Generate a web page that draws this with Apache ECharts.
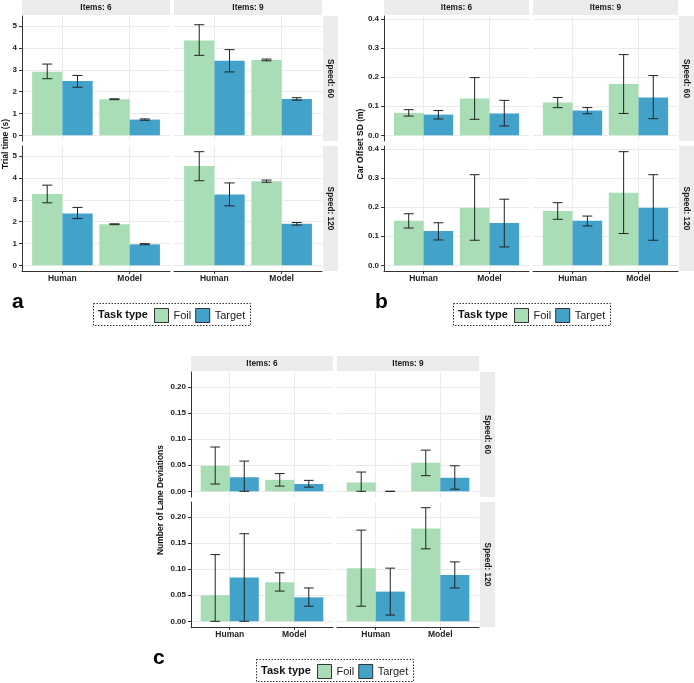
<!DOCTYPE html>
<html><head><meta charset="utf-8">
<script src="https://cdn.jsdelivr.net/npm/echarts@6/dist/echarts.min.js"></script>
<style>html,body{margin:0;padding:0;background:#fff}#c{width:694px;height:683px}</style>
</head><body><div id="c"></div>
<script>
const categories = ['Human', 'Model'];
const taskTypes = ['Foil', 'Target'];
const itemLabels = ['Items: 6', 'Items: 9'];
const speedLabels = ['Speed: 60', 'Speed: 120'];
// facet order: [Speed 60/Items 6, Speed 60/Items 9, Speed 120/Items 6, Speed 120/Items 9]; inner: [Human, Model]
const trialFoil = [[2.91,1.65],[4.34,3.45],[3.26,1.88],[4.54,3.85]];
const trialFoilLow = [[2.59,1.63],[3.66,3.41],[2.86,1.86],[3.87,3.80]];
const trialFoilHigh = [[3.26,1.67],[5.06,3.49],[3.67,1.90],[5.20,3.90]];
const trialTarget = [[2.48,0.72],[3.41,1.66],[2.37,0.96],[3.24,1.90]];
const trialTargetLow = [[2.20,0.69],[2.90,1.61],[2.14,0.94],[2.72,1.84]];
const trialTargetHigh = [[2.74,0.75],[3.92,1.72],[2.65,0.99],[3.77,1.96]];
const offsetFoil = [[0.077,0.126],[0.113,0.176],[0.153,0.198],[0.186,0.249]];
const offsetFoilLow = [[0.066,0.055],[0.095,0.075],[0.128,0.086],[0.158,0.109]];
const offsetFoilHigh = [[0.088,0.198],[0.130,0.277],[0.177,0.311],[0.215,0.390]];
const offsetTarget = [[0.071,0.075],[0.085,0.130],[0.118,0.145],[0.153,0.198]];
const offsetTargetLow = [[0.056,0.032],[0.074,0.057],[0.087,0.063],[0.135,0.086]];
const offsetTargetHigh = [[0.085,0.120],[0.095,0.205],[0.146,0.227],[0.169,0.311]];
const laneFoil = [[0.049,0.022],[0.017,0.055],[0.050,0.075],[0.102,0.178]];
const laneFoilLow = [[0.014,0.010],[0.000,0.030],[0.000,0.058],[0.029,0.139]];
const laneFoilHigh = [[0.085,0.034],[0.037,0.079],[0.128,0.093],[0.175,0.218]];
const laneTarget = [[0.027,0.014],[0.000,0.026],[0.084,0.046],[0.057,0.089]];
const laneTargetLow = [[0.000,0.008],[0.000,0.004],[0.000,0.029],[0.012,0.064]];
const laneTargetHigh = [[0.058,0.021],[0.000,0.049],[0.168,0.064],[0.102,0.114]];
const trialTicks = [0, 1, 2, 3, 4, 5];
const offsetTicks = [0, 0.1, 0.2, 0.3, 0.4];
const laneTicks = [0, 0.05, 0.1, 0.15, 0.2];
const yTitles = ['Trial time (s)', 'Car Offset SD (m)', 'Number of Lane Deviations'];
const panelLetters = ['a', 'b', 'c'];
const legendTitle = 'Task type';

const FONT = '"Liberation Sans", Arial, Helvetica, sans-serif';
const COLORS = ['#a8ddb5', '#43a2ca'];
const GRIDC = '#ebebeb';
const AXC = '#333333';
const STRIPC = '#ececec';

const panels = [
  { ticks: trialTicks, dec: 0, yMin: -0.26, yMax: 5.46,
    data: [[trialFoil, trialFoilLow, trialFoilHigh], [trialTarget, trialTargetLow, trialTargetHigh]],
    cols: [22, 174], colW: 148, rows: [16, 146], rowH: 125, stripX: 323,
    yTitleX: 6, yTitleY: 144, letterX: 12, letterY: 302, boxX: 93, boxY: 303 },
  { ticks: offsetTicks, dec: 1, yMin: -0.0195, yMax: 0.4095,
    data: [[offsetFoil, offsetFoilLow, offsetFoilHigh], [offsetTarget, offsetTargetLow, offsetTargetHigh]],
    cols: [384, 533], colW: 145, rows: [16, 146], rowH: 125, stripX: 679,
    yTitleX: 361, yTitleY: 144, letterX: 375, letterY: 302, boxX: 453, boxY: 303 },
  { ticks: laneTicks, dec: 2, yMin: -0.0109, yMax: 0.2289,
    data: [[laneFoil, laneFoilLow, laneFoilHigh], [laneTarget, laneTargetLow, laneTargetHigh]],
    cols: [191, 337], colW: 142, rows: [372, 502], rowH: 125, stripX: 480,
    yTitleX: 161, yTitleY: 500, letterX: 153, letterY: 658, boxX: 256, boxY: 659 }
];

function makeRender(t) {
  return function (params, api) {
    const x = api.value(0), v = api.value(1), lo = api.value(2), hi = api.value(3);
    const x0 = x - 0.45 + t * 0.45, x1 = x0 + 0.45, xc = x0 + 0.225, cw = 0.075;
    const p0 = api.coord([x0, v]), p1 = api.coord([x1, 0]);
    const top = api.coord([xc, hi]), bot = api.coord([xc, lo]);
    const cl = api.coord([xc - cw, hi])[0], cr = api.coord([xc + cw, hi])[0];
    const es = { stroke: '#222', lineWidth: 1 };
    return { type: 'group', children: [
      { type: 'rect', shape: { x: p0[0], y: Math.min(p0[1], p1[1]), width: p1[0] - p0[0], height: Math.abs(p1[1] - p0[1]) }, style: { fill: COLORS[t] } },
      { type: 'line', shape: { x1: top[0], y1: top[1], x2: bot[0], y2: bot[1] }, style: es },
      { type: 'line', shape: { x1: cl, y1: top[1], x2: cr, y2: top[1] }, style: es },
      { type: 'line', shape: { x1: cl, y1: bot[1], x2: cr, y2: bot[1] }, style: es }
    ]};
  };
}

const grid = [], xAxis = [], yAxis = [], series = [], legend = [], graphic = [];
panels.forEach((P, pi) => {
  for (let r = 0; r < 2; r++) {
    for (let c = 0; c < 2; c++) {
      const g = grid.length;
      const f = r * 2 + c;
      grid.push({ left: P.cols[c], top: P.rows[r], width: P.colW, height: P.rowH });
      xAxis.push({ gridIndex: g, type: 'value', min: 0.4, max: 2.6,
        axisLine: { show: r === 1, onZero: false, lineStyle: { color: AXC, width: 1 } },
        axisTick: { show: r === 1, customValues: [1, 2], length: 3, lineStyle: { color: AXC } },
        axisLabel: { show: r === 1, customValues: [1, 2], margin: 3, fontSize: 8.5, fontWeight: 'bold', color: '#222', fontFamily: FONT,
          formatter: v => categories[Math.round(v) - 1] },
        splitLine: { show: true, lineStyle: { color: GRIDC, width: 1 } } });
      yAxis.push({ gridIndex: g, type: 'value', min: P.yMin, max: P.yMax,
        axisLine: { show: c === 0, onZero: false, lineStyle: { color: AXC, width: 1 } },
        axisTick: { show: c === 0, customValues: P.ticks, length: 3, lineStyle: { color: AXC } },
        axisLabel: { show: c === 0, customValues: P.ticks, margin: 5, fontSize: 8, fontWeight: 'bold', color: '#222', fontFamily: FONT,
          formatter: v => Number(v).toFixed(P.dec) },
        splitLine: { show: true, lineStyle: { color: GRIDC, width: 1 } } });
      for (let t = 0; t < 2; t++) {
        const [m, lo, hi] = P.data[t];
        series.push({ type: 'custom', name: taskTypes[t], xAxisIndex: g, yAxisIndex: g,
          itemStyle: { color: COLORS[t] }, silent: true,
          encode: { x: 0, y: 1 },
          data: categories.map((_, i) => [i + 1, m[f][i], lo[f][i], hi[f][i]]),
          renderItem: makeRender(t) });
      }
      if (r === 0) {
        graphic.push({ type: 'rect', shape: { x: P.cols[c], y: P.rows[0] - 16, width: P.colW, height: 15 }, style: { fill: STRIPC } });
        graphic.push({ type: 'text', x: P.cols[c] + P.colW / 2, y: P.rows[0] - 8.5,
          style: { text: itemLabels[c], font: 'bold 8.3px ' + FONT, fill: '#1a1a1a', align: 'center', verticalAlign: 'middle' } });
      }
    }
    graphic.push({ type: 'rect', shape: { x: P.stripX, y: P.rows[r], width: 15, height: P.rowH }, style: { fill: STRIPC } });
    graphic.push({ type: 'text', x: P.stripX + 7.5, y: P.rows[r] + P.rowH / 2, rotation: -Math.PI / 2,
      style: { text: speedLabels[r], font: 'bold 8.3px ' + FONT, fill: '#1a1a1a', align: 'center', verticalAlign: 'middle' } });
  }
  graphic.push({ type: 'text', x: P.yTitleX, y: P.yTitleY, rotation: Math.PI / 2,
    style: { text: yTitles[pi], font: 'bold 8.5px ' + FONT, fill: '#111', align: 'center', verticalAlign: 'middle' } });
  graphic.push({ type: 'text', x: P.letterX, y: P.letterY,
    style: { text: panelLetters[pi], font: 'bold 21px ' + FONT, fill: '#000', align: 'left', verticalAlign: 'middle' } });
  graphic.push({ type: 'rect', shape: { x: P.boxX + 0.5, y: P.boxY + 0.5, width: 157, height: 22 },
    style: { fill: 'none', stroke: '#333', lineWidth: 1, lineDash: [1.5, 1.5] } });
  graphic.push({ type: 'text', x: P.boxX + 5, y: P.boxY + 11.5,
    style: { text: legendTitle, font: 'bold 11px ' + FONT, fill: '#111', align: 'left', verticalAlign: 'middle' } });
  legend.push({ data: taskTypes, left: P.boxX + 61, top: P.boxY + 5, padding: 0, orient: 'horizontal',
    itemWidth: 14, itemHeight: 14, itemGap: 4, icon: 'rect', selectedMode: false,
    itemStyle: { borderColor: '#333', borderWidth: 1 },
    textStyle: { fontSize: 11, color: '#222', fontFamily: FONT } });
});

const chart = echarts.init(document.getElementById('c'), null, { renderer: 'canvas' });
chart.setOption({ animation: false, backgroundColor: '#fff', grid, xAxis, yAxis, series, legend, graphic });
</script></body></html>
